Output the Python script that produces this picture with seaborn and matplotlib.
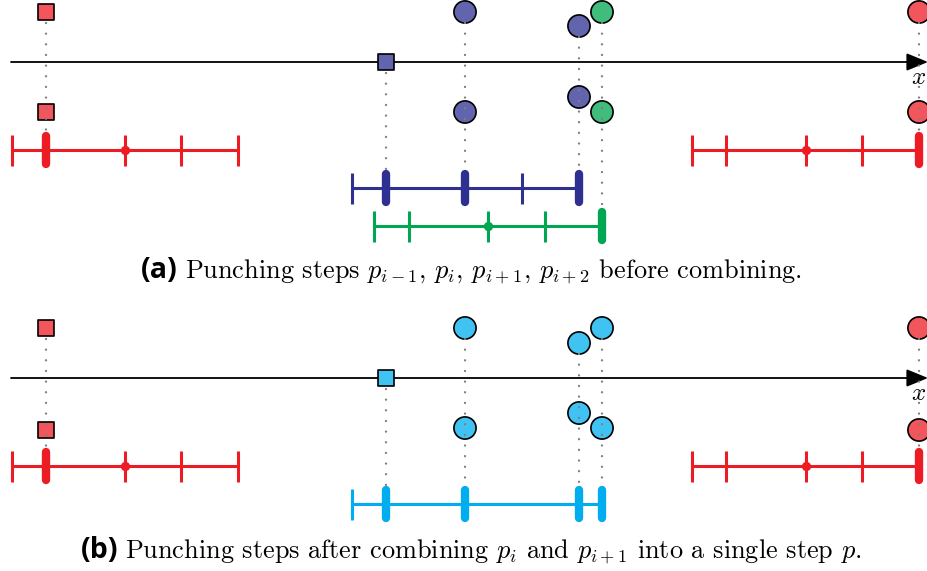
import numpy as np
import pandas as pd
import matplotlib
matplotlib.use("Agg")
import matplotlib.pyplot as plt
import seaborn as sns
from matplotlib.colors import to_rgb

sns.set_theme(style="white")
plt.rcParams["mathtext.fontset"] = "cm"
plt.rcParams["text.color"] = "black"

# ---------------- data (canvas units, y grows downward) ----------------
panel_offset = [0, 316]          # vertical offset of panel (a) and (b)
axis_y = 62                      # x-axis line in each panel
axis_x_start = 11
axis_x_end = 928

# markers of panel (a)
a_marker_x     = [46, 46, 386, 465, 465, 579, 579, 602, 602, 919, 919]
a_marker_y     = [12, 112, 62, 12, 112, 26, 97, 12, 112, 12, 112]
a_marker_shape = ["s", "s", "s", "o", "o", "o", "o", "o", "o", "o", "o"]
a_marker_group = ["red", "red", "blue", "blue", "blue", "blue", "blue",
                  "green", "green", "red", "red"]

# markers of panel (b)
b_marker_x     = [46, 46, 386, 465, 465, 579, 579, 602, 602, 919, 919]
b_marker_y     = [12, 114, 62, 12, 112, 27, 97, 12, 112, 12, 114]
b_marker_shape = ["s", "s", "s", "o", "o", "o", "o", "o", "o", "o", "o"]
b_marker_group = ["red", "red", "cyan", "cyan", "cyan", "cyan", "cyan",
                  "cyan", "cyan", "red", "red"]

# punching-step bars of panel (a)
a_bar_group = ["red", "blue", "green", "red"]
a_bar_y     = [150, 188, 226, 150]
a_bar_ticks = [[12, 46, 125, 181, 238],
               [352, 386, 465, 522, 579],
               [374, 409, 488, 545, 602],
               [692, 726, 806, 862, 919]]
a_bar_thick = [[46], [386, 465, 579], [602], [919]]
a_bar_dot   = [125, None, 488, 806]

# punching-step bars of panel (b)
b_bar_group = ["red", "cyan", "red"]
b_bar_y     = [150, 188, 150]
b_bar_ticks = [[12, 46, 125, 181, 238],
               [352, 386, 465, 579, 602],
               [692, 726, 806, 862, 919]]
b_bar_thick = [[46], [386, 465, 579, 602], [919]]
b_bar_dot   = [125, None, 806]

# dotted guide lines: x, top marker y, bar-top y
a_guide_x   = [46, 386, 465, 579, 602, 919]
a_guide_top = [12, 62, 12, 26, 12, 12]
a_guide_bot = [134, 172, 172, 172, 210, 134]
b_guide_x   = [46, 386, 465, 579, 602, 919]
b_guide_top = [12, 62, 12, 27, 12, 12]
b_guide_bot = [134, 172, 172, 172, 172, 134]

line_colors = {"red": "#ED1C24", "blue": "#2E3192",
               "green": "#00A651", "cyan": "#00AEEF"}

captions = [
    ("(a)", r"Punching steps $p_{i-1}$, $p_i$, $p_{i+1}$, $p_{i+2}$ before combining."),
    ("(b)", r"Punching steps after combining $p_i$ and $p_{i+1}$ into a single step $p$."),
]
caption_y = [278, 558]
caption_label_right = [178, 118]

# ---------------- drawing ----------------
W, H = 928, 571
fig = plt.figure(figsize=(W / 100, H / 100), dpi=100)
ax = fig.add_axes([0, 0, 1, 1])
ax.set_xlim(0, W)
ax.set_ylim(H, 0)
ax.axis("off")


def fill(c, a=0.75):
    r, g, b = to_rgb(c)
    return (r * a + 1 - a, g * a + 1 - a, b * a + 1 - a)


panels = [
    (a_marker_x, a_marker_y, a_marker_shape, a_marker_group,
     a_bar_group, a_bar_y, a_bar_ticks, a_bar_thick, a_bar_dot,
     a_guide_x, a_guide_top, a_guide_bot),
    (b_marker_x, b_marker_y, b_marker_shape, b_marker_group,
     b_bar_group, b_bar_y, b_bar_ticks, b_bar_thick, b_bar_dot,
     b_guide_x, b_guide_top, b_guide_bot),
]

for p, (mx, my, ms, mg, bg, by, bt, bth, bd, gx, gt, gb) in enumerate(panels):
    off = panel_offset[p]

    # x axis with arrow
    ax.annotate("", xy=(axis_x_end, axis_y + off), xytext=(axis_x_start, axis_y + off),
                arrowprops=dict(arrowstyle="-|>,head_length=1.1,head_width=0.45",
                                color="black", lw=1.3, shrinkA=0, shrinkB=0),
                zorder=2)
    ax.text(axis_x_end - 9, axis_y + off + 15, r"$x$", fontsize=18,
            color="black", ha="center", va="center", zorder=6)

    # bars
    for g, y, ticks, thick, dot in zip(bg, by, bt, bth, bd):
        c = line_colors[g]
        yy = y + off
        ax.plot([ticks[0], ticks[-1]], [yy, yy], color=c, lw=2.2,
                solid_capstyle="butt", zorder=3)
        for t in ticks:
            if t in thick:
                ax.plot([t, t], [yy - 14, yy + 14], color=c, lw=6,
                        solid_capstyle="round", zorder=4)
            else:
                ax.plot([t, t], [yy - 15, yy + 16], color=c, lw=2.2,
                        solid_capstyle="butt", zorder=3)
        if dot is not None:
            sns.scatterplot(x=[dot], y=[yy], color=c, s=45, linewidth=0,
                            ax=ax, zorder=4, legend=False)

    # markers
    df = pd.DataFrame({"x": mx, "y": [v + off for v in my],
                       "shape": ms, "group": mg})
    for shape, size in (("s", 120), ("o", 255)):
        sub = df[df["shape"] == shape]
        if len(sub):
            sns.scatterplot(data=sub, x="x", y="y", hue="group",
                            palette={k: fill(v) for k, v in line_colors.items()},
                            marker=shape, s=size, edgecolor="black",
                            linewidth=1.2, ax=ax, zorder=5, legend=False)

    # dotted guides
    for x, t, b in zip(gx, gt, gb):
        ax.plot([x, x], [t + off + 11, b + off], color="#7f7f7f", lw=1.7,
                linestyle=(0, (0.01, 4.5)), dash_capstyle="round", zorder=7)

# captions
for (lab, txt), y, xr in zip(captions, caption_y, caption_label_right):
    ax.text(xr, y, lab, fontsize=20.5, fontweight="bold", family="Open Sans",
            color="black", ha="right", va="baseline")
    ax.text(xr + 7, y, txt, fontsize=18.9, family="cmr10",
            color="black", ha="left", va="baseline")

fig.savefig("out.png", dpi=100)
